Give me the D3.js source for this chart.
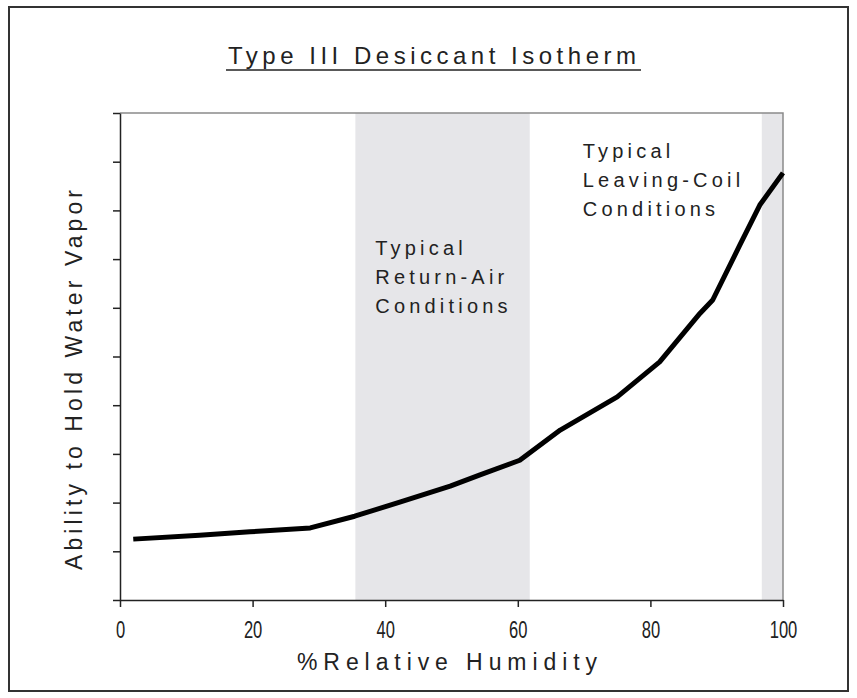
<!DOCTYPE html>
<meta charset="utf-8">
<style>
	body { margin: 0; background: #fff; font-family: "Liberation Sans", Arial, sans-serif; }
	.axis path, .axis line { stroke: #222; stroke-width: 1.5; }
	.note { font-size: 20px; letter-spacing: 4.2px; fill: #222; }
</style>
<body>
<svg id="chart" width="857" height="698"></svg>

<script src="https://d3js.org/d3.v7.min.js"></script>
<script>
	// curve: humidity (%) vs relative capacity (0-10)
	var humidity = [2, 12, 19.6, 28.7, 35.4, 42.2, 49.8, 54.3, 60.3, 66.4, 75, 81.4, 87.5, 89.4, 93.5, 96.5, 100];
	var capacity = [1.25, 1.33, 1.4, 1.48, 1.72, 2.01, 2.34, 2.57, 2.87, 3.49, 4.17, 4.89, 5.89, 6.16, 7.29, 8.11, 8.77];
	var xTicks = [0, 20, 40, 60, 80, 100];
	var yTicks = [0, 1, 2, 3, 4, 5, 6, 7, 8, 9, 10];
	var bands = [[35.5, 61.8], [96.8, 100]];
	var notes = [
		{ x: 38.5, y: 7.08, lines: ["Typical", "Return-Air", "Conditions"] },
		{ x: 69.8, y: 9.08, lines: ["Typical", "Leaving-Coil", "Conditions"] }
	];

	var svg = d3.select("#chart"),
		margin = {top: 113, right: 74, bottom: 98, left: 120},
		width = +svg.attr("width") - margin.left - margin.right,
		height = +svg.attr("height") - margin.top - margin.bottom;

	// outer frame
	svg.append("rect")
		.attr("x", 9).attr("y", 7)
		.attr("width", 839).attr("height", 684)
		.attr("fill", "none")
		.attr("stroke", "#333")
		.attr("stroke-width", 2);

	var x = d3.scaleLinear().domain([0, 100]).range([0, width]);
	var y = d3.scaleLinear().domain([0, 10]).range([height, 0]);

	var g = svg.append("g")
		.attr("transform", "translate(" + margin.left + "," + margin.top + ")");

	g.selectAll(".band")
		.data(bands)
		.enter().append("rect")
		.attr("class", "band")
		.attr("x", function(d) { return x(d[0]); })
		.attr("width", function(d) { return x(d[1]) - x(d[0]); })
		.attr("y", 0)
		.attr("height", height)
		.attr("fill", "#e6e6e9");

	// plot frame, top and right in gray
	g.append("path")
		.attr("d", "M0,0H" + width + "V" + height)
		.attr("fill", "none")
		.attr("stroke", "#8a8a8a")
		.attr("stroke-width", 1.5);

	var xa = g.append("g")
		.attr("class", "axis")
		.attr("transform", "translate(0," + height + ")")
		.call(d3.axisBottom(x).tickValues(xTicks).tickSize(7).tickPadding(15).tickSizeOuter(0));
	xa.attr("font-size", 23).attr("font-family", "Liberation Sans, Arial");
	xa.selectAll(".tick text")
		.attr("fill", "#222")
		.attr("transform", "scale(0.72,1)");

	g.append("g")
		.attr("class", "axis")
		.call(d3.axisLeft(y).tickValues(yTicks).tickSize(7).tickFormat("").tickSizeOuter(0));

	var pts = humidity.map(function(h, i) { return [h, capacity[i]]; });
	g.append("path")
		.datum(pts)
		.attr("fill", "none")
		.attr("stroke", "#000")
		.attr("stroke-width", 5)
		.attr("stroke-linejoin", "round")
		.attr("d", d3.line()
			.x(function(d) { return x(d[0]); })
			.y(function(d) { return y(d[1]); }));

	notes.forEach(function(n) {
		var t = g.append("text").attr("class", "note")
			.attr("x", x(n.x)).attr("y", y(n.y));
		n.lines.forEach(function(l, i) {
			t.append("tspan").attr("x", x(n.x)).attr("dy", i ? 29 : 0).text(l);
		});
	});

	// title
	svg.append("text")
		.attr("x", 228).attr("y", 64)
		.attr("textLength", 408)
		.attr("lengthAdjust", "spacing")
		.style("font-size", "24px")
		.attr("fill", "#222")
		.text("Type III Desiccant Isotherm");
	svg.append("line")
		.attr("x1", 226).attr("x2", 641)
		.attr("y1", 70).attr("y2", 70)
		.attr("stroke", "#222").attr("stroke-width", 1.5);

	svg.append("text")
		.attr("x", 297).attr("y", 670)
		.attr("textLength", 300)
		.attr("lengthAdjust", "spacing")
		.style("font-size", "23px")
		.attr("fill", "#222")
		.text("%Relative Humidity");

	svg.append("text")
		.attr("transform", "translate(82,570) rotate(-90)")
		.attr("textLength", 380)
		.attr("lengthAdjust", "spacing")
		.style("font-size", "23px")
		.attr("fill", "#222")
		.text("Ability to Hold Water Vapor");
</script>
</body>
